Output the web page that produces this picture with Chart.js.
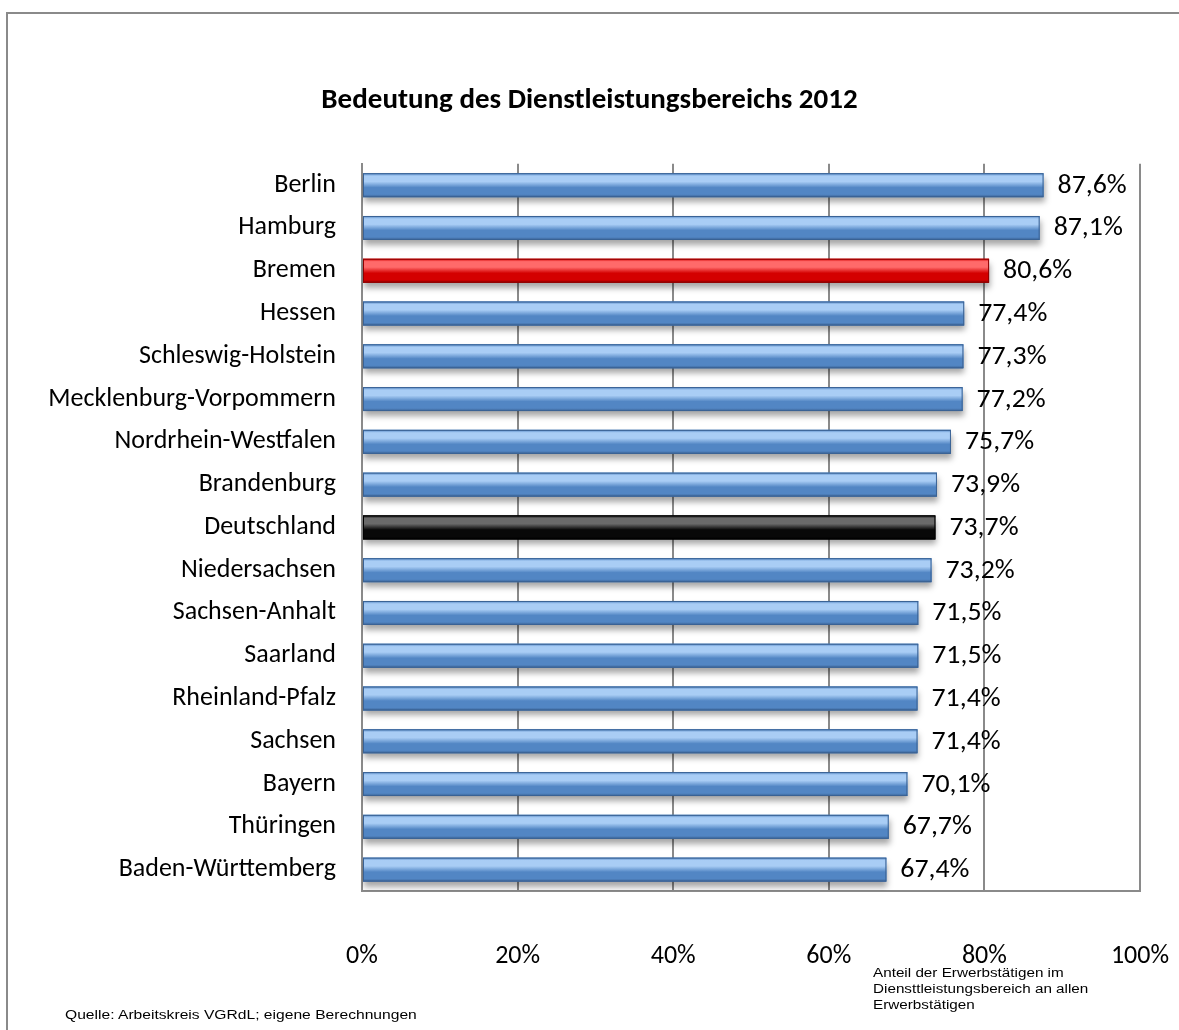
<!DOCTYPE html>
<html>
<head>
<meta charset="utf-8">
<script src="https://cdn.jsdelivr.net/npm/chart.js@4"></script>
<style>
    html, body { margin: 0; padding: 0; background: #fff; }
    #wrap { position: relative; width: 1179px; height: 1030px; overflow: hidden; }
    #frame { position: absolute; left: 6px; top: 12px; width: 1300px; height: 1100px;
             border-left: 2px solid #8a8a8a; border-top: 2px solid #8a8a8a; }
    canvas { position: absolute; left: 0; top: 0; }
    .note { position: absolute; font-family: "Liberation Sans", Arial, sans-serif; font-size: 12.5px; color: #000;
            line-height: 16px; white-space: nowrap; transform: scaleX(1.22); transform-origin: 0 0; }
</style>
</head>
<body>
<div id="wrap">
    <div id="frame"></div>
    <canvas id="chart" width="1179" height="1030"></canvas>
    <div class="note" id="source" style="left:65px; top:1007px; transform: scaleX(1.25);">Quelle: Arbeitskreis VGRdL; eigene Berechnungen</div>
    <div class="note" id="remark" style="left:873px; top:965px;">Anteil der Erwerbstätigen im<br>Diensttleistungsbereich an allen<br>Erwerbstätigen</div>
</div>
<script>
// Data
const laender = ['Berlin', 'Hamburg', 'Bremen', 'Hessen', 'Schleswig-Holstein', 'Mecklenburg-Vorpommern',
    'Nordrhein-Westfalen', 'Brandenburg', 'Deutschland', 'Niedersachsen', 'Sachsen-Anhalt', 'Saarland',
    'Rheinland-Pfalz', 'Sachsen', 'Bayern', 'Thüringen', 'Baden-Württemberg'];
const anteil = [87.6, 87.1, 80.6, 77.4, 77.3, 77.2, 75.7, 73.9, 73.7, 73.2, 71.5, 71.5, 71.4, 71.4, 70.1, 67.7, 67.4];
const xTicks = [0, 20, 40, 60, 80, 100];

const FONT = 'Carlito, Calibri, Lato, sans-serif';

// colour scheme per bar: blue, Bremen red, Deutschland black
function scheme(name) {
    if (name === 'Bremen') return { top: '#ff6a6a', mid: '#d40000', bot: '#8e0000' };
    if (name === 'Deutschland') return { top: '#6a6a6a', mid: '#080808', bot: '#000000' };
    return { top: '#a9cdf5', mid: '#5286c4', bot: '#3a6294' };
}

const fmt = v => v.toFixed(1).replace('.', ',') + '%';

// shadow + glossy gradient on bars
const barStyle = {
    id: 'barStyle',
    beforeDatasetsDraw(chart) {
        const ctx = chart.ctx;
        ctx.save();
        ctx.shadowColor = 'rgba(0,0,0,0.35)';
        ctx.shadowBlur = 6;
        ctx.shadowOffsetY = 5;
        ctx.shadowOffsetX = 1;
    },
    afterDatasetsDraw(chart) {
        const ctx = chart.ctx;
        ctx.restore();
        const meta = chart.getDatasetMeta(0);
        meta.data.forEach((bar, i) => {
            const c = scheme(laender[i]);
            const top = bar.y - bar.height / 2;
            const g = ctx.createLinearGradient(0, top, 0, top + bar.height);
            g.addColorStop(0, c.mid);
            g.addColorStop(0.12, c.top);
            g.addColorStop(0.35, c.top);
            g.addColorStop(0.6, c.mid);
            g.addColorStop(0.88, c.mid);
            g.addColorStop(1, c.bot);
            ctx.fillStyle = g;
            ctx.fillRect(bar.base, top, bar.x - bar.base, bar.height);
            ctx.strokeStyle = c.bot;
            ctx.lineWidth = 1;
            ctx.strokeRect(bar.base + 0.5, top + 0.5, bar.x - bar.base - 1, bar.height - 1);
            // value label (slightly wide, like the original)
            ctx.save();
            ctx.translate(bar.x + 14, bar.y + 1);
            ctx.scale(1.07, 1);
            ctx.fillStyle = '#000';
            ctx.font = '26px ' + FONT;
            ctx.textAlign = 'left';
            ctx.textBaseline = 'middle';
            ctx.fillText(fmt(anteil[i]), 0, 0);
            ctx.restore();
        });
    }
};

const ctx = document.getElementById('chart').getContext('2d');
new Chart(ctx, {
    type: 'bar',
    data: {
        labels: laender,
        datasets: [{
            data: anteil,
            backgroundColor: laender.map(n => scheme(n).mid),
            borderWidth: 0,
            categoryPercentage: 0.56,
            barPercentage: 1.0
        }]
    },
    options: {
        indexAxis: 'y',
        responsive: false,
        animation: false,
        layout: { padding: 0 },
        plugins: {
            legend: { display: false },
            tooltip: { enabled: false },
            title: {
                display: true,
                text: 'Bedeutung des Dienstleistungsbereichs 2012',
                color: '#000',
                font: { family: FONT, size: 29, weight: 'bold' },
                padding: { top: 83, bottom: 46 }
            }
        },
        scales: {
            x: {
                min: 0,
                max: 100,
                afterBuildTicks: scale => { scale.ticks = xTicks.map(v => ({ value: v })); },
                afterFit: scale => { scale.height = 139; scale.paddingLeft = 0; scale.paddingRight = 39; },
                ticks: {
                    callback: v => v + '%',
                    color: '#000',
                    padding: 50,
                    font: { family: FONT, size: 26 }
                },
                grid: { color: '#8a8a8a', lineWidth: 2, drawTicks: false },
                border: { color: '#8a8a8a', width: 2 }
            },
            y: {
                afterFit: scale => { scale.width = 362; },
                ticks: {
                    color: '#000',
                    padding: 26,
                    font: { family: FONT, size: 26 }
                },
                grid: { display: false, drawTicks: false },
                border: { color: '#8a8a8a', width: 2 }
            }
        }
    },
    plugins: [barStyle]
});
</script>
</body>
</html>
